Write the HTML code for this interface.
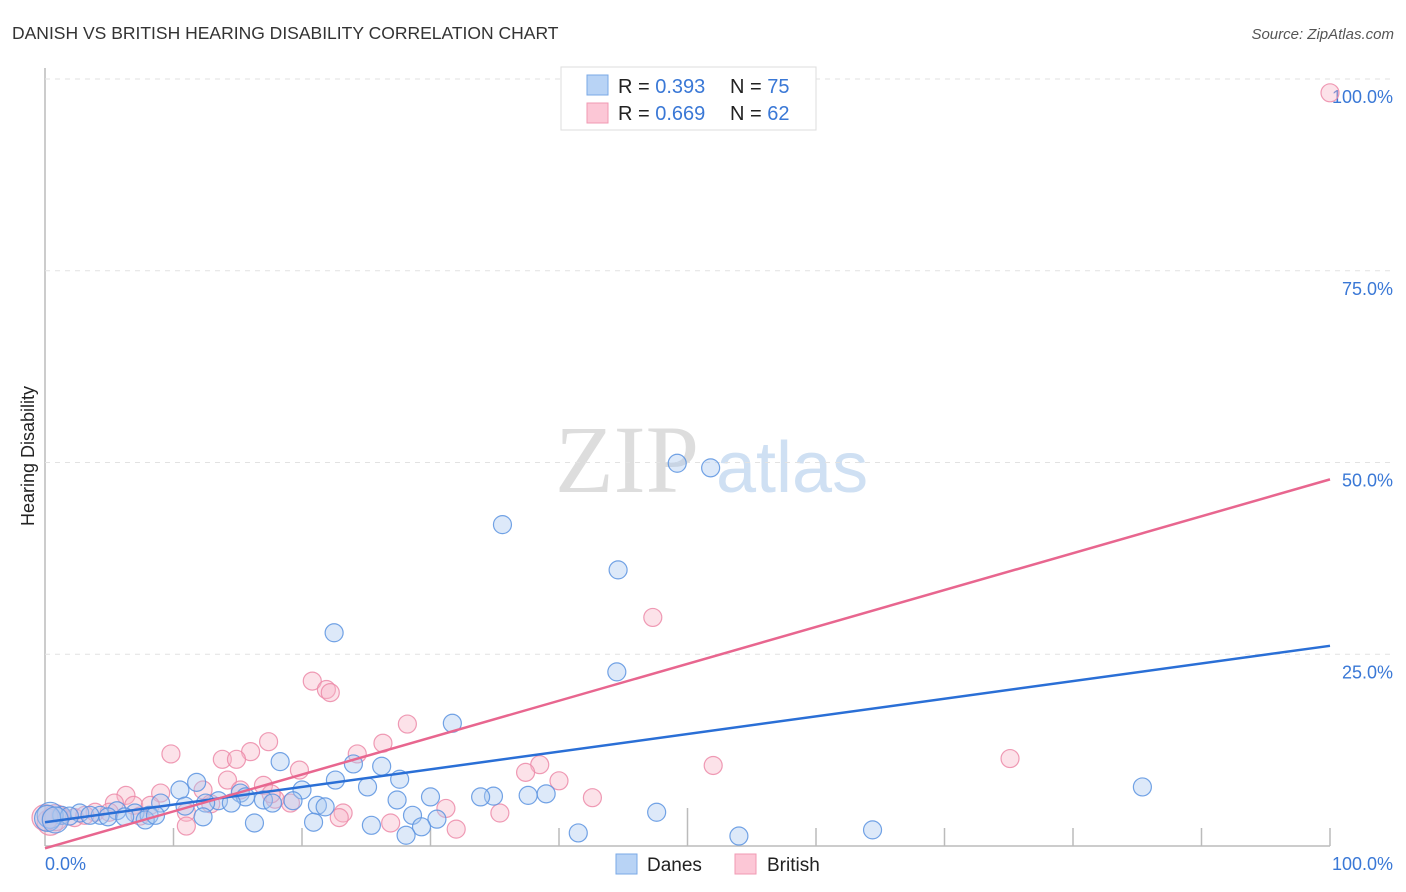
<!DOCTYPE html>
<html><head><meta charset="utf-8"><style>
body{margin:0;background:#fff;font-family:"Liberation Sans",sans-serif;}
svg{display:block}
</style></head><body>
<svg id="chart" width="1406" height="892">
<text x="12" y="39" font-size="17.5" fill="#333">DANISH VS BRITISH HEARING DISABILITY CORRELATION CHART</text>
<text x="1394" y="39" font-size="15" fill="#555" font-style="italic" text-anchor="end">Source: ZipAtlas.com</text>
<text x="34" y="456" font-size="18" fill="#222" transform="rotate(-90 34 456)" text-anchor="middle">Hearing Disability</text>
<text x="555" y="492" font-size="96" fill="#ddd" font-family="Liberation Serif,serif">ZIP</text>
<text x="716" y="492" font-size="72" fill="#cfe0f3">atlas</text>
<g id="grid"></g><g id="pts"></g><g id="lines"></g>
<g>
<rect x="561" y="67" width="255" height="63" fill="#fff" stroke="#ddd"/>
<rect x="587" y="75" width="21" height="20" fill="#b8d3f5" stroke="#7aa8e6"/>
<rect x="587" y="103" width="21" height="20" fill="#fcc7d6" stroke="#f09ab3"/>
<text x="618" y="93" font-size="20" fill="#222">R = <tspan fill="#3a78d6">0.393</tspan></text>
<text x="730" y="93" font-size="20" fill="#222">N = <tspan fill="#3a78d6">75</tspan></text>
<text x="618" y="120" font-size="20" fill="#222">R = <tspan fill="#3a78d6">0.669</tspan></text>
<text x="730" y="120" font-size="20" fill="#222">N = <tspan fill="#3a78d6">62</tspan></text>
</g>
<g>
<rect x="616" y="854" width="21" height="20" fill="#b8d3f5" stroke="#7aa8e6"/>
<text x="647" y="871" font-size="19" fill="#222">Danes</text>
<rect x="735" y="854" width="21" height="20" fill="#fcc7d6" stroke="#f09ab3"/>
<text x="767" y="871" font-size="19" fill="#222">British</text>
</g>
<text x="45" y="870" font-size="18" fill="#3a78d6">0.0%</text>
<text x="1393" y="870" font-size="18" fill="#3a78d6" text-anchor="end">100.0%</text>
</svg>
<script>
const yTicks=[25,50,75,100];
const yTickLabels=["25.0%","50.0%","75.0%","100.0%"];
const danesX=[49.2,51.8,35.6,44.6,22.5,44.5,31.7,18.3,24,26.2,27.6,11.8,22.6,25.1,10.5,20,15.2,37.6,39,34.9,33.9,30,27.4,17,19.3,13.5,12.5,9,21.2,15.6,17.7,21.8,10.9,14.5,5.6,7,8.1,4.3,2.7,1.3,0.4,1.9,3.5,4.9,6.2,7.8,8.6,12.3,47.6,28.6,30.5,16.3,20.9,25.4,29.3,41.5,54,64.4,28.1,85.4,0.2,0.8];
const danesY=[49.9,49.3,41.9,36.0,27.8,22.7,16.0,11.0,10.7,10.4,8.7,8.3,8.6,7.7,7.3,7.3,6.9,6.6,6.8,6.5,6.4,6.4,6.0,6.0,5.9,5.9,5.6,5.6,5.3,6.4,5.6,5.1,5.2,5.6,4.6,4.3,4.0,4.0,4.3,4.0,4.0,3.9,4.0,3.8,3.8,3.4,4.0,3.8,4.4,4.0,3.5,3.0,3.1,2.7,2.5,1.7,1.3,2.1,1.4,7.7,3.6,3.4];
const britishX=[100,47.3,20.8,21.9,22.2,28.2,75.1,52,9.8,17.4,16,13.8,14.9,24.3,26.3,38.5,37.4,40,19.8,14.2,17,15.2,12.3,9,6.3,5.4,6.9,8.2,11,12.9,19.1,17.9,23.2,26.9,31.2,35.4,42.6,22.9,32,11,17.6,1.2,2.3,3.9,3.1,5,7.4,0.4,0.8,0];
const britishY=[98.2,29.8,21.5,20.4,20.0,15.9,11.4,10.5,12.0,13.6,12.3,11.3,11.3,12.0,13.4,10.6,9.6,8.5,9.9,8.6,7.9,7.3,7.3,6.9,6.6,5.6,5.3,5.3,4.4,5.5,5.6,6.1,4.3,3.0,4.9,4.3,6.3,3.7,2.2,2.6,6.8,4.0,3.7,4.4,4.0,4.4,3.9,3.1,3.7,3.7];
const danesLine=[3.1,26.1];
const britishLine=[-0.3,47.8];
const X=v=>45+v*12.85, Y=v=>846-v*7.67;
const NS="http://www.w3.org/2000/svg";
function mk(tag,attrs,parent){const e=document.createElementNS(NS,tag);for(const k in attrs)e.setAttribute(k,attrs[k]);parent.appendChild(e);return e;}
const grid=document.getElementById('grid');
let ax=mk('line',{x1:45,y1:68,x2:45,y2:846,stroke:'#bbb','stroke-width':1.5},grid);


let bx=mk('line',{x1:45,y1:846,x2:1330,y2:846,stroke:'#bbb','stroke-width':1.5},grid);


for(let i=1;i<=10;i++){const t=mk('line',{x1:X(i*10),y1:i==5?808:828,x2:X(i*10),y2:846,stroke:'#bbb','stroke-width':1.5},grid);

}
yTicks.forEach((v,i)=>{const g=mk('line',{x1:45,y1:Y(v),x2:1394,y2:Y(v),stroke:'#e2e2e2','stroke-dasharray':'5,5'},grid);


const t=mk('text',{x:1393,y:Y(v)+24,'font-size':18,fill:'#3a78d6','text-anchor':'end'},grid);t.textContent=yTickLabels[i];

});
const pts=document.getElementById('pts');
function series(xs,ys,fill,stroke,name){xs.forEach((x,i)=>{const c=mk('circle',{cx:X(x),cy:Y(ys[i]),r:(x<1?13:9),fill:fill,'fill-opacity':0.4,stroke:stroke,'stroke-opacity':0.85,'stroke-width':1.2},pts);

});}
series(britishX,britishY,'#f8b6c9','#ec8aa8','british-point');
series(danesX,danesY,'#a9c9f1','#5b93e0','danes-point');
const lines=document.getElementById('lines');
let l1=mk('line',{x1:X(0),y1:Y(danesLine[0]),x2:X(100),y2:Y(danesLine[1]),stroke:'#2a6fd6','stroke-width':2.5},lines);


let l2=mk('line',{x1:X(0),y1:Y(britishLine[0]),x2:X(100),y2:Y(britishLine[1]),stroke:'#e8668f','stroke-width':2.5},lines);


</script>
</body></html>
